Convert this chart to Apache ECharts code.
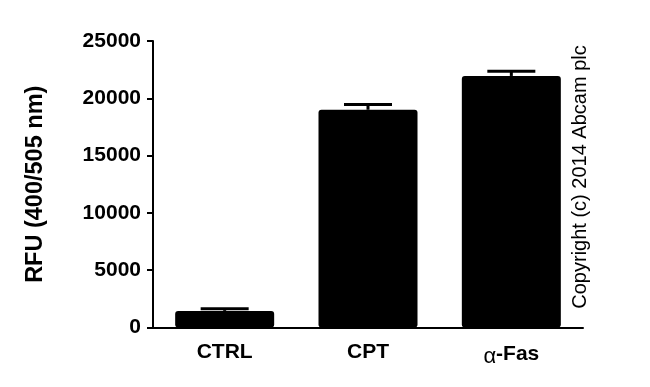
<!DOCTYPE html>
<html>
<head>
<meta charset="utf-8">
<script src="https://cdn.jsdelivr.net/npm/echarts@6/dist/echarts.min.js"></script>
<style>
html,body{margin:0;padding:0;background:#fff;}
#chart{width:650px;height:387px;}
</style>
</head>
<body>
<div id="chart"></div>
<script>
const categories = ['CTRL', 'CPT', 'α-Fas'];
const means = [1450, 19000, 21950];
const errors = [180, 450, 420];
const yTicks = [0, 5000, 10000, 15000, 20000, 25000];
const yTitle = 'RFU (400/505 nm)';
const copyright = 'Copyright (c) 2014 Abcam plc';

const chart = echarts.init(document.getElementById('chart'), null, {renderer: 'canvas'});
const FONT = '"Liberation Sans", Arial, sans-serif';

const errData = means.map((m, i) => [i, m, m + errors[i]]);

chart.setOption({
  animation: false,
  backgroundColor: '#fff',
  grid: {left: 153, right: 67, top: 41, bottom: 59.5, containLabel: false},
  xAxis: {
    type: 'category',
    data: categories,
    axisLine: {lineStyle: {color: '#000', width: 2}},
    axisTick: {alignWithLabel: true, length: 6, lineStyle: {color: '#000', width: 2}},
    axisLabel: {
      interval: 0,
      margin: 14,
      color: '#000',
      fontFamily: FONT,
      fontSize: 21,
      fontWeight: 'bold',
      formatter: function (v) {
        if (v.charAt(0) === 'α') return '{a|α}{b|' + v.slice(1) + '}';
        return '{b|' + v + '}';
      },
      rich: {
        a: {fontFamily: FONT, fontSize: 22, fontWeight: 'normal', color: '#000', padding: [4, 0, 0, 0]},
        b: {fontFamily: FONT, fontSize: 21, fontWeight: 'bold', color: '#000'}
      }
    }
  },
  yAxis: {
    type: 'value',
    min: yTicks[0],
    max: yTicks[yTicks.length - 1],
    interval: yTicks[1] - yTicks[0],
    name: yTitle,
    nameLocation: 'middle',
    nameRotate: 90,
    nameGap: 105,
    nameTextStyle: {color: '#000', fontFamily: FONT, fontSize: 23.5, fontWeight: 'bold'},
    splitLine: {show: false},
    axisLine: {show: true, lineStyle: {color: '#000', width: 2}},
    axisTick: {show: true, length: 6, lineStyle: {color: '#000', width: 2}},
    axisLabel: {
      margin: 12, color: '#000', fontFamily: FONT, fontSize: 21, fontWeight: 'bold',
      formatter: function (v) { return String(v); }
    }
  },
  series: [
    {
      type: 'bar',
      data: means,
      barWidth: 99,
      itemStyle: {color: '#000', borderRadius: 3}
    },
    {
      type: 'custom',
      data: errData,
      z: 3,
      renderItem: function (params, api) {
        const x = api.value(0);
        const top = api.coord([x, api.value(2)]);
        const bot = api.coord([x, api.value(1)]);
        const half = 24;
        return {
          type: 'group',
          children: [
            {type: 'line', shape: {x1: top[0], y1: top[1], x2: bot[0], y2: bot[1]}, style: {stroke: '#000', lineWidth: 3}},
            {type: 'line', shape: {x1: top[0] - half, y1: top[1], x2: top[0] + half, y2: top[1]}, style: {stroke: '#000', lineWidth: 3}}
          ]
        };
      }
    }
  ],
  graphic: [
    {
      type: 'text',
      x: 580,
      y: 177,
      rotation: Math.PI / 2,
      style: {
        text: copyright,
        fill: '#000',
        font: 'normal 20px ' + FONT,
        align: 'center',
        verticalAlign: 'middle'
      }
    }
  ]
});
</script>
</body>
</html>
